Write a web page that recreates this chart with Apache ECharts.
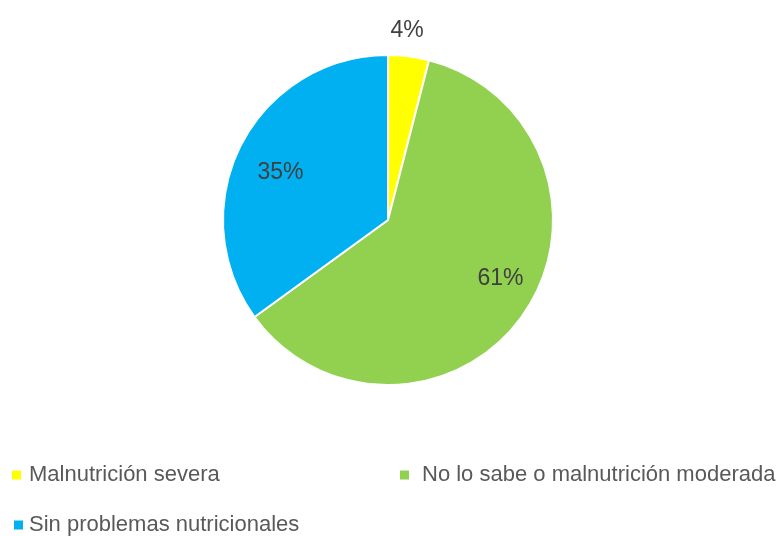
<!DOCTYPE html>
<html>
<head>
<meta charset="utf-8">
<script src="https://cdn.jsdelivr.net/npm/echarts@6/dist/echarts.min.js"></script>
<style>
  html, body { margin: 0; padding: 0; background: #fff; }
  #chart { width: 781px; height: 536px; }
</style>
</head>
<body>
<div id="chart"></div>
<script>
// Distribución del estado nutricional (porcentaje)
const categories = ['Malnutrición severa', 'No lo sabe o malnutrición moderada', 'Sin problemas nutricionales'];
const values = [4, 61, 35];
const colors = ['#FFFF00', '#92D050', '#00B0F0'];

const pieData = categories.map((name, i) => ({
  name: name,
  value: values[i],
  itemStyle: { color: colors[i] }
}));

// Overlay ring used only to place the percentage labels
const labelData = categories.map((name, i) => ({
  name: name,
  value: values[i],
  label: i === 0 ? { position: 'outside' } : { position: 'inside' }
}));

// Small nudges of each percentage label (px)
const labelNudge = [[-25, -12], [7, -13], [6, 11]];

function legendItem(name, left, top, gap) {
  return {
    data: [name],
    left: left,
    top: top,
    padding: 0,
    icon: 'rect',
    itemWidth: 11,
    itemHeight: 11,
    selectedMode: false,
    textStyle: {
      fontFamily: '"Liberation Sans", Arial, sans-serif',
      fontSize: 22,
      color: '#595959',
      padding: [0, 0, 0, gap]
    }
  };
}

const chart = echarts.init(document.getElementById('chart'), null, { renderer: 'canvas' });
chart.setOption({
  animation: false,
  backgroundColor: '#ffffff',
  legend: [
    legendItem(categories[0], 10, 464, 2),
    legendItem(categories[1], 398, 464, 7),
    legendItem(categories[2], 12, 514, 0)
  ],
  series: [
    {
      type: 'pie',
      center: [388, 220],
      radius: [0, 165],
      startAngle: 90,
      clockwise: true,
      data: pieData,
      itemStyle: { borderColor: '#ffffff', borderWidth: 2 },
      label: { show: false },
      labelLine: { show: false },
      emphasis: { disabled: true }
    },
    {
      type: 'pie',
      center: [388, 220],
      radius: [84, 165],
      startAngle: 90,
      clockwise: true,
      silent: true,
      data: labelData,
      itemStyle: { color: 'rgba(0,0,0,0)', borderWidth: 0 },
      label: {
        show: true,
        formatter: '{c}%',
        fontFamily: '"Liberation Sans", Arial, sans-serif',
        fontSize: 23,
        color: '#404040'
      },
      labelLine: { show: false, length: 14, length2: 0 },
      labelLayout: function (params) {
        const n = labelNudge[params.dataIndex];
        return { dx: n[0], dy: n[1] };
      },
      emphasis: { disabled: true }
    }
  ]
});
</script>
</body>
</html>
